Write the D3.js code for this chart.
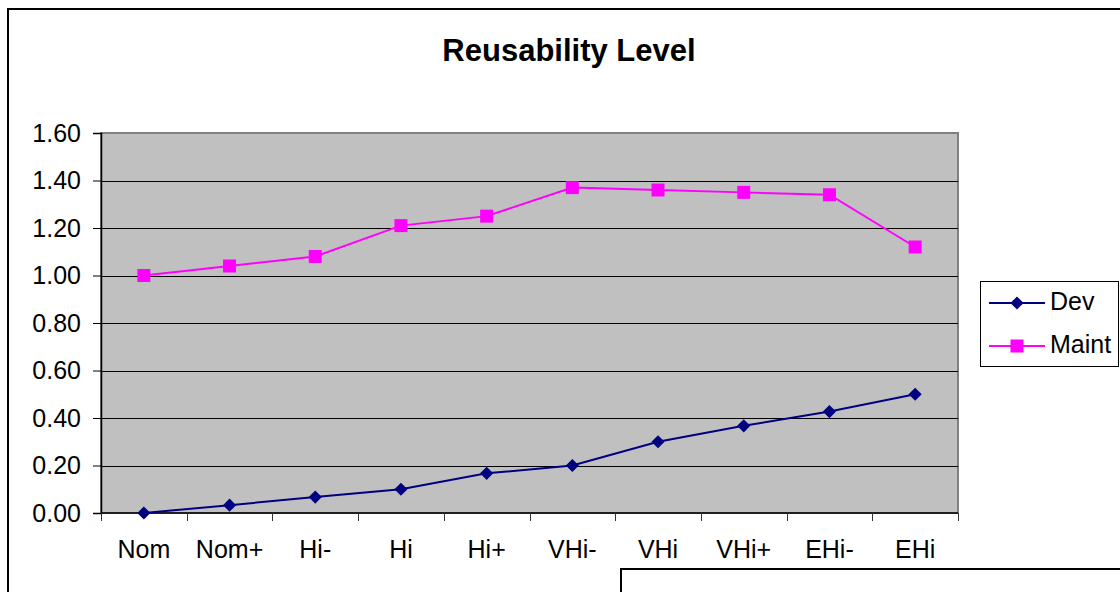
<!DOCTYPE html>
<html>
<head>
<meta charset="utf-8">
<script src="https://cdn.jsdelivr.net/npm/d3@7"></script>
<style>
  html, body { margin: 0; padding: 0; background: #fff; }
  svg { display: block; font-family: "Liberation Sans", Arial, sans-serif; }
</style>
</head>
<body>
<svg id="chart" width="1120" height="592"></svg>
<script>
const categories = ["Nom", "Nom+", "Hi-", "Hi", "Hi+", "VHi-", "VHi", "VHi+", "EHi-", "EHi"];
const devValues = [0.00, 0.033, 0.067, 0.10, 0.167, 0.20, 0.30, 0.367, 0.427, 0.50];
const maintValues = [1.00, 1.04, 1.08, 1.21, 1.25, 1.37, 1.36, 1.35, 1.34, 1.12];
const yTicks = [0, 0.2, 0.4, 0.6, 0.8, 1.0, 1.2, 1.4, 1.6];
const seriesNames = ["Dev", "Maint"];

const labelSize = 25;
const svg = d3.select("#chart");

// outer chart frame
svg.append("rect").attr("x", 8).attr("y", 9).attr("width", 1130).attr("height", 600)
  .attr("fill", "#fff").attr("stroke", "#000").attr("stroke-width", 2);

// neighbouring frame peeking in at the bottom
svg.append("rect").attr("x", 621).attr("y", 569).attr("width", 520).attr("height", 60)
  .attr("fill", "#fff").attr("stroke", "#000").attr("stroke-width", 2);

const plot = { left: 101, right: 958, top: 133, bottom: 513 };

const x = d3.scaleBand().domain(categories).range([plot.left, plot.right]);
const y = d3.scaleLinear().domain([0, 1.6]).range([plot.bottom, plot.top]);

// plot area
svg.append("rect")
  .attr("x", plot.left).attr("y", plot.top)
  .attr("width", plot.right - plot.left).attr("height", plot.bottom - plot.top)
  .attr("fill", "#c0c0c0").attr("stroke", "#808080").attr("stroke-width", 2);

// horizontal gridlines
svg.append("g").selectAll("line").data(yTicks.filter(d => d > 0 && d < 1.6)).join("line")
  .attr("x1", plot.left).attr("x2", plot.right)
  .attr("y1", d => Math.round(y(d)) + 0.5).attr("y2", d => Math.round(y(d)) + 0.5)
  .attr("stroke", "#000").attr("stroke-width", 1);

// y axis
const yAxis = svg.append("g").attr("transform", `translate(${plot.left},0)`)
  .call(d3.axisLeft(y).tickValues(yTicks).tickFormat(d3.format(".2f")).tickSizeOuter(0).tickSize(8).tickPadding(12));
yAxis.select(".domain").attr("stroke", "#000").attr("stroke-width", 1.5);
yAxis.selectAll(".tick line").attr("stroke", "#000");
yAxis.selectAll("text").attr("font-size", labelSize).attr("fill", "#000")
  .attr("font-family", "'Liberation Sans', Arial, sans-serif");

// x axis with ticks at category boundaries
const xAxisG = svg.append("g").attr("transform", `translate(0,${plot.bottom})`);
xAxisG.append("line").attr("x1", plot.left).attr("x2", plot.right)
  .attr("y1", 0).attr("y2", 0).attr("stroke", "#000").attr("stroke-width", 1.5);
const boundaries = categories.map(c => x(c)).concat([plot.right]);
xAxisG.selectAll("line.tk").data(boundaries).join("line").attr("class", "tk")
  .attr("x1", d => Math.round(d) + 0.5).attr("x2", d => Math.round(d) + 0.5)
  .attr("y1", 0).attr("y2", 8).attr("stroke", "#333").attr("stroke-width", 1);
xAxisG.selectAll("text").data(categories).join("text")
  .attr("x", d => x(d) + x.bandwidth() / 2).attr("y", 45)
  .attr("text-anchor", "middle").attr("font-size", labelSize).attr("fill", "#000")
  .text(d => d);

const line = d3.line().x((d, i) => x(categories[i]) + x.bandwidth() / 2).y(d => y(d));

// Dev series
svg.append("path").datum(devValues).attr("d", line)
  .attr("fill", "none").attr("stroke", "#000080").attr("stroke-width", 2);
const diamond = d3.symbol().type(d3.symbolDiamond2).size(110);
svg.append("g").selectAll("path").data(devValues).join("path")
  .attr("d", diamond)
  .attr("transform", (d, i) => `translate(${x(categories[i]) + x.bandwidth() / 2},${y(d)})`)
  .attr("fill", "#000080");

// Maint series
svg.append("path").datum(maintValues).attr("d", line)
  .attr("fill", "none").attr("stroke", "#ff00ff").attr("stroke-width", 2);
svg.append("g").selectAll("rect").data(maintValues).join("rect")
  .attr("x", (d, i) => x(categories[i]) + x.bandwidth() / 2 - 6.5)
  .attr("y", d => y(d) - 6.5)
  .attr("width", 13).attr("height", 13)
  .attr("fill", "#ff00ff");

// title
svg.append("text").attr("x", 569).attr("y", 61).attr("text-anchor", "middle")
  .attr("font-size", 31).attr("font-weight", "bold").attr("fill", "#000")
  .text("Reusability Level");

// legend
const legend = svg.append("g");
legend.append("rect").attr("x", 980.5).attr("y", 281.5).attr("width", 138).attr("height", 85)
  .attr("fill", "#fff").attr("stroke", "#000").attr("stroke-width", 1);
const legendRows = [
  { name: seriesNames[0], color: "#000080", y: 303, marker: "diamond" },
  { name: seriesNames[1], color: "#ff00ff", y: 346, marker: "square" }
];
legendRows.forEach(r => {
  legend.append("line").attr("x1", 989).attr("x2", 1045).attr("y1", r.y).attr("y2", r.y)
    .attr("stroke", r.color).attr("stroke-width", 2);
  if (r.marker === "diamond") {
    legend.append("path").attr("d", diamond).attr("transform", `translate(1017,${r.y})`).attr("fill", r.color);
  } else {
    legend.append("rect").attr("x", 1010.5).attr("y", r.y - 6.5).attr("width", 13).attr("height", 13).attr("fill", r.color);
  }
  legend.append("text").attr("x", 1050).attr("y", r.y + 6.5).attr("font-size", labelSize).attr("fill", "#000").text(r.name);
});
</script>
</body>
</html>
